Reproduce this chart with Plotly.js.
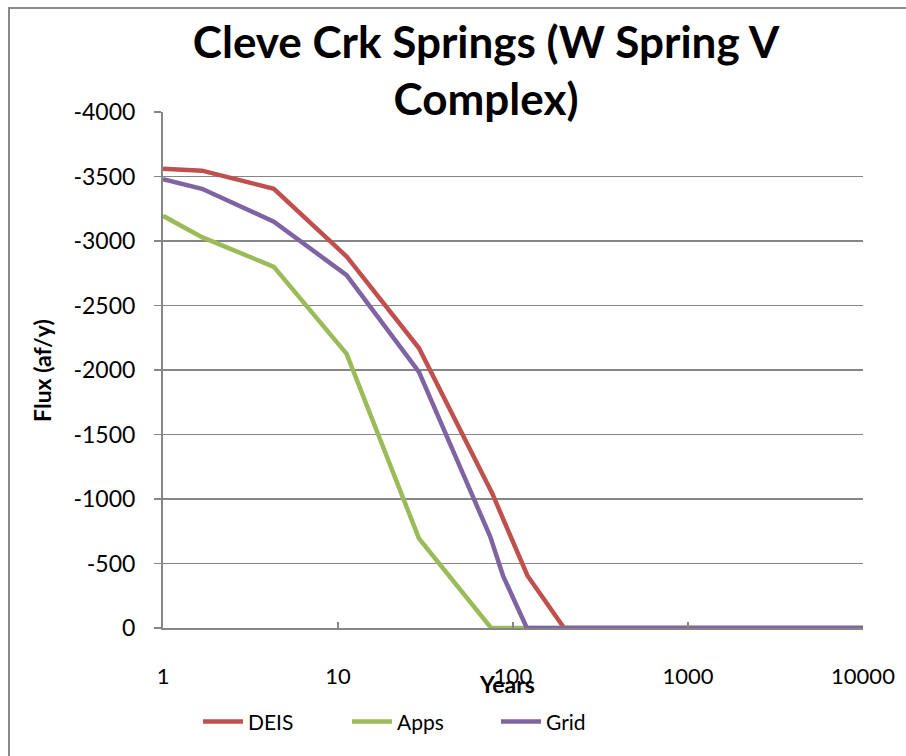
<!DOCTYPE html>
<html>
<head>
<meta charset="utf-8">
<script src="https://cdn.plot.ly/plotly-3.0.1.min.js"></script>
<style>
  html, body { margin: 0; padding: 0; background: #fff; }
  #wrap { position: relative; width: 906px; height: 756px; overflow: hidden; }
  #chart { position: absolute; left: 0; top: 0; width: 906px; height: 756px; }
  #frame { position: absolute; left: 8px; top: 7px; width: 960px; height: 800px;
           border-left: 2px solid #8a8a8a; border-top: 2px solid #8a8a8a; pointer-events: none; }
</style>
</head>
<body>
<div id="wrap"><div id="chart"></div><div id="frame"></div></div>
<script>
// Years (log scale) and flux values (af/y)
const deisYears = [1, 1.67, 4.3, 11.2, 29, 76, 121, 196, 10000];
const deisFlux  = [-3560, -3545, -3405, -2880, -2170, -1045, -405, 0, 0];

const appsYears = [1, 1.67, 4.3, 11.2, 29, 75, 10000];
const appsFlux  = [-3195, -3030, -2800, -2125, -695, 0, 0];

const gridYears = [1, 1.67, 4.3, 11.2, 29, 74, 88, 120, 10000];
const gridFlux  = [-3480, -3405, -3150, -2735, -1985, -710, -400, 0, 0];

const yTicks = [0, -500, -1000, -1500, -2000, -2500, -3000, -3500, -4000];
const xTicks = [1, 10, 100, 1000, 10000];

const FONT = 'Lato, "Open Sans", sans-serif';

const traces = [
  { x: deisYears, y: deisFlux, name: 'DEIS', mode: 'lines', line: { color: '#C0504D', width: 4.5 } },
  { x: appsYears, y: appsFlux, name: 'Apps', mode: 'lines', line: { color: '#9BBB59', width: 4.5 } },
  { x: gridYears, y: gridFlux, name: 'Grid', mode: 'lines', line: { color: '#8064A2', width: 4.5 } }
];

const layout = {
  width: 906, height: 756,
  margin: { l: 163, r: 43, t: 112, b: 128, autoexpand: false },
  paper_bgcolor: 'rgba(0,0,0,0)',
  plot_bgcolor: '#ffffff',
  font: { family: FONT, color: '#000', size: 20 },
  title: {
    text: '<b>Cleve Crk Springs (W Spring V<br>Complex)</b>',
    font: { family: FONT, size: 44, color: '#000' },
    x: 0.5365, xref: 'container', xanchor: 'center',
    y: 0.923, yref: 'container', yanchor: 'top'
  },
  xaxis: {
    type: 'log',
    range: [0, 4],
    tickvals: xTicks,
    ticktext: xTicks.map(String),
    ticks: 'inside', ticklen: 6, tickcolor: '#868686', tickwidth: 1.5,
    showgrid: false,
    showline: true, linecolor: '#868686', linewidth: 2,
    zeroline: false,
    automargin: false,
    tickfont: { family: FONT, size: 22 },
    ticklabelstandoff: 28
  },
  yaxis: {
    range: [0, -4000],
    tickvals: yTicks,
    ticktext: yTicks.map(String),
    ticks: 'outside', ticklen: 7, tickcolor: '#868686', tickwidth: 1.5,
    showgrid: true, gridcolor: '#868686', gridwidth: 1.5,
    showline: true, linecolor: '#868686', linewidth: 2,
    zeroline: false,
    automargin: false,
    tickfont: { family: FONT, size: 23 },
    ticklabelstandoff: 14
  },
  showlegend: true,
  legend: {
    orientation: 'h',
    x: 0.05, xanchor: 'left',
    y: -0.142, yanchor: 'top',
    font: { family: FONT, size: 21 },
    entrywidth: 94, entrywidthmode: 'pixels',
    bgcolor: 'rgba(0,0,0,0)',
    itemwidth: 40
  },
  annotations: [
    { text: '<b>Years</b>', xref: 'paper', yref: 'paper', x: 0.491, y: -0.108,
      xanchor: 'center', yanchor: 'middle', showarrow: false, font: { family: FONT, size: 23 } },
    { text: '<b>Flux (af/y)</b>', xref: 'paper', yref: 'paper', x: -0.173, y: 0.5,
      xanchor: 'center', yanchor: 'middle', textangle: -90, showarrow: false, font: { family: FONT, size: 23 } }
  ]
};

Plotly.newPlot('chart', traces, layout, { displayModeBar: false, staticPlot: true });
</script>
</body>
</html>
